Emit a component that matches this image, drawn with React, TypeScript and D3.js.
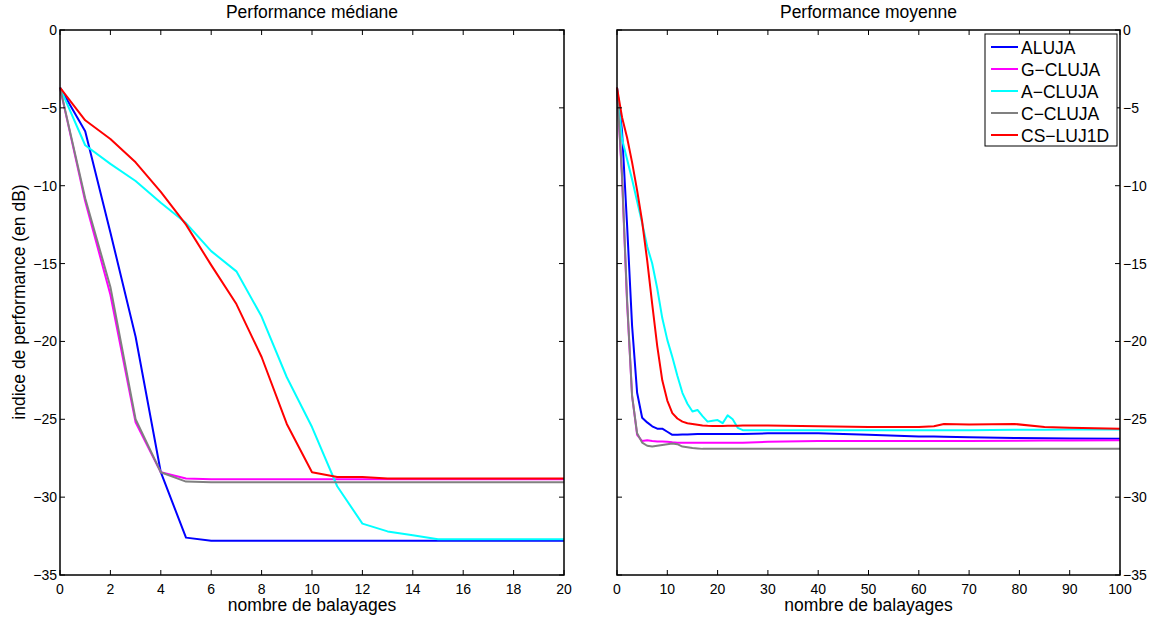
import React from "react";
import * as d3 from "d3";

const seriesNames = ["ALUJA", "G\u2212CLUJA", "A\u2212CLUJA", "C\u2212CLUJA", "CS\u2212LUJ1D"];
const seriesColors = ["#0000ff", "#ff00ff", "#00ffff", "#808080", "#ff0000"];

// Left panel: median performance, x = 0..20
const leftX = [0, 1, 2, 3, 4, 5, 6, 7, 8, 9, 10, 11, 12, 13, 14, 15, 16, 17, 18, 19, 20];
const leftAluja = [-3.7, -6.5, -13.0, -19.7, -28.4, -32.6, -32.8, -32.8, -32.8, -32.8, -32.8, -32.8, -32.8, -32.8, -32.8, -32.8, -32.8, -32.8, -32.8, -32.8, -32.8];
const leftGCluja = [-3.7, -11.0, -17.0, -25.2, -28.4, -28.8, -28.85, -28.85, -28.85, -28.85, -28.85, -28.85, -28.85, -28.85, -28.85, -28.85, -28.85, -28.85, -28.85, -28.85, -28.85];
const leftACluja = [-3.7, -7.4, -8.6, -9.7, -11.1, -12.4, -14.2, -15.5, -18.4, -22.3, -25.5, -29.3, -31.7, -32.2, -32.45, -32.7, -32.7, -32.7, -32.7, -32.7, -32.7];
const leftCCluja = [-3.7, -10.8, -16.5, -25.0, -28.4, -29.0, -29.05, -29.05, -29.05, -29.05, -29.05, -29.05, -29.05, -29.05, -29.05, -29.05, -29.05, -29.05, -29.05, -29.05, -29.05];
const leftCsLuj1d = [-3.7, -5.8, -7.0, -8.5, -10.4, -12.5, -15.1, -17.6, -21.0, -25.3, -28.4, -28.7, -28.7, -28.8, -28.8, -28.8, -28.8, -28.8, -28.8, -28.8, -28.8];

// Right panel: mean performance, x = 0..100
const rightX = [0, 1, 2, 3, 4, 5, 6, 7, 8, 9, 10, 11, 12, 13, 14, 15, 16, 17, 18, 19, 20, 21, 22, 23, 24, 25, 30, 40, 50, 60, 63, 65, 70, 79, 85, 90, 100];
const rightAluja = [-3.7, -6.5, -12.5, -19.0, -23.3, -24.9, -25.2, -25.45, -25.6, -25.6, -25.8, -26.0, -26.0, -25.98, -25.97, -25.96, -25.95, -25.95, -25.95, -25.95, -25.95, -25.95, -25.95, -25.95, -25.95, -25.95, -25.9, -25.9, -26.0, -26.1, -26.1, -26.12, -26.15, -26.2, -26.22, -26.23, -26.25];
const rightGCluja = [-3.7, -9.5, -17.5, -23.5, -26.0, -26.4, -26.35, -26.4, -26.42, -26.43, -26.45, -26.48, -26.5, -26.5, -26.5, -26.5, -26.5, -26.5, -26.5, -26.5, -26.5, -26.5, -26.5, -26.5, -26.5, -26.5, -26.45, -26.4, -26.4, -26.4, -26.4, -26.4, -26.4, -26.38, -26.37, -26.36, -26.35];
const rightACluja = [-3.7, -7.0, -8.3, -9.6, -11.0, -12.4, -13.9, -15.0, -16.6, -18.5, -19.9, -21.0, -22.2, -23.3, -24.0, -24.5, -24.4, -24.8, -25.15, -25.1, -25.05, -25.25, -24.75, -25.0, -25.55, -25.7, -25.7, -25.7, -25.7, -25.7, -25.7, -25.7, -25.7, -25.68, -25.67, -25.66, -25.65];
const rightCCluja = [-3.7, -9.3, -17.3, -23.5, -25.9, -26.5, -26.7, -26.75, -26.7, -26.65, -26.6, -26.55, -26.6, -26.75, -26.8, -26.85, -26.87, -26.9, -26.9, -26.9, -26.9, -26.9, -26.9, -26.9, -26.9, -26.9, -26.9, -26.9, -26.9, -26.9, -26.9, -26.9, -26.9, -26.9, -26.9, -26.9, -26.9];
const rightCsLuj1d = [-3.7, -5.6, -6.9, -8.5, -10.3, -12.3, -14.8, -17.6, -20.3, -22.5, -23.8, -24.6, -24.95, -25.15, -25.25, -25.3, -25.35, -25.4, -25.42, -25.43, -25.43, -25.43, -25.42, -25.42, -25.41, -25.4, -25.4, -25.45, -25.5, -25.5, -25.45, -25.3, -25.33, -25.3, -25.5, -25.55, -25.6];

const yTicks = [0, -5, -10, -15, -20, -25, -30, -35];
const leftXTicks = [0, 2, 4, 6, 8, 10, 12, 14, 16, 18, 20];
const rightXTicks = [0, 10, 20, 30, 40, 50, 60, 70, 80, 90, 100];

const titles = ["Performance m\u00e9diane", "Performance moyenne"];
const xLabel = "nombre de balayages";
const yLabel = "indice de performance (en dB)";

const FONT = "Liberation Sans, Arial, Helvetica, sans-serif";
const fmt = (v: number) => (v < 0 ? "\u2212" + Math.abs(v) : String(v));

type PanelProps = {
  x0: number;
  x1: number;
  xs: number[];
  ys: number[][];
  xDomain: [number, number];
  xTicks: number[];
  title: string;
  yLabelsRight: boolean;
};

const TOP = 30;
const BOTTOM = 575;
const TICK = 5;

function Panel({ x0, x1, xs, ys, xDomain, xTicks, title, yLabelsRight }: PanelProps) {
  const x = d3.scaleLinear().domain(xDomain).range([x0, x1]);
  const y = d3.scaleLinear().domain([0, -35]).range([TOP, BOTTOM]);
  const line = d3
    .line<number>()
    .x((_, i) => x(xs[i]))
    .y((d) => y(d));
  return (
    <g>
      <text x={(x0 + x1) / 2} y={18} textAnchor="middle" fontSize={17.5} fontFamily={FONT}>
        {title}
      </text>
      {ys.map((s, k) => (
        <path key={k} d={line(s) || ""} fill="none" stroke={seriesColors[k]} strokeWidth={2} strokeLinejoin="round" />
      ))}
      <rect x={x0} y={TOP} width={x1 - x0} height={BOTTOM - TOP} fill="none" stroke="#000" strokeWidth={1.5} />
      {xTicks.map((t) => (
        <g key={"x" + t}>
          <line x1={x(t)} x2={x(t)} y1={BOTTOM} y2={BOTTOM - TICK} stroke="#000" strokeWidth={1} />
          <line x1={x(t)} x2={x(t)} y1={TOP} y2={TOP + TICK} stroke="#000" strokeWidth={1} />
          <text x={x(t)} y={594} textAnchor="middle" fontSize={14} fontFamily={FONT}>
            {fmt(t)}
          </text>
        </g>
      ))}
      {yTicks.map((t) => (
        <g key={"y" + t}>
          <line x1={x0} x2={x0 + TICK} y1={y(t)} y2={y(t)} stroke="#000" strokeWidth={1} />
          <line x1={x1} x2={x1 - TICK} y1={y(t)} y2={y(t)} stroke="#000" strokeWidth={1} />
          <text
            x={yLabelsRight ? x1 + 3 : x0 - 3}
            y={y(t) + 5}
            textAnchor={yLabelsRight ? "start" : "end"}
            fontSize={14}
            fontFamily={FONT}
          >
            {fmt(t)}
          </text>
        </g>
      ))}
      <text x={(x0 + x1) / 2} y={611} textAnchor="middle" fontSize={17.5} fontFamily={FONT}>
        {xLabel}
      </text>
    </g>
  );
}

export default function App() {
  const legendX = 985;
  const legendY = 34;
  return (
    <svg width={1158} height={619} style={{ position: "absolute", left: 0, top: 0, background: "#fff" }}>
      <rect x={0} y={0} width={1158} height={619} fill="#fff" />
      <Panel
        x0={60}
        x1={564}
        xs={leftX}
        ys={[leftAluja, leftGCluja, leftACluja, leftCCluja, leftCsLuj1d]}
        xDomain={[0, 20]}
        xTicks={leftXTicks}
        title={titles[0]}
        yLabelsRight={false}
      />
      <Panel
        x0={617}
        x1={1120}
        xs={rightX}
        ys={[rightAluja, rightGCluja, rightACluja, rightCCluja, rightCsLuj1d]}
        xDomain={[0, 100]}
        xTicks={rightXTicks}
        title={titles[1]}
        yLabelsRight={true}
      />
      <text
        transform={`translate(25,302) rotate(-90)`}
        textAnchor="middle"
        fontSize={17.5}
        fontFamily={FONT}
      >
        {yLabel}
      </text>
      <g>
        <rect x={legendX} y={legendY} width={132} height={112} fill="#fff" stroke="#000" strokeWidth={1} />
        {seriesNames.map((n, i) => (
          <g key={n}>
            <line x1={991} x2={1018} y1={47 + i * 22} y2={47 + i * 22} stroke={seriesColors[i]} strokeWidth={2} />
            <text x={1021} y={47 + i * 22 + 6.5} fontSize={17.5} fontFamily={FONT}>
              {n}
            </text>
          </g>
        ))}
      </g>
    </svg>
  );
}
